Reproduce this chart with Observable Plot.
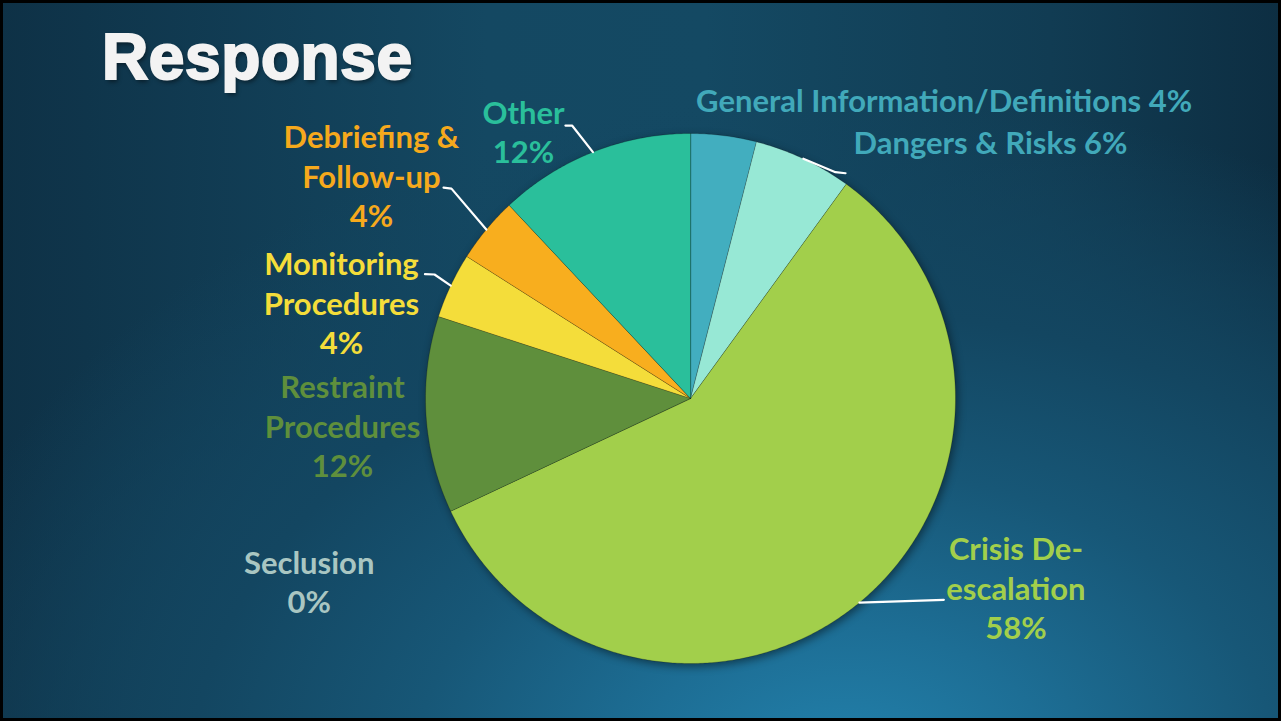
<!DOCTYPE html>
<html>
<head>
<meta charset="utf-8">
<script src="https://cdn.jsdelivr.net/npm/d3@7"></script>
<script src="https://cdn.jsdelivr.net/npm/@observablehq/plot@0.6"></script>
<style>
  html, body { margin: 0; padding: 0; background: #000; }
  #stage {
    position: relative; width: 1281px; height: 721px; overflow: hidden;
    background:
      radial-gradient(ellipse 75% 95% at 66% 108%, #2383ae 0%, #1d6e95 22%, #175777 45%, #134661 68%, rgba(19,70,97,0) 100%),
      linear-gradient(90deg, #0e3146 0%, #144862 38%, #144963 55%, #113c53 82%, #0d2e42 100%);
  }
  #stage svg { position: absolute; left: 0; top: 0; }
  #title {
    position: absolute; left: 102px; top: 25px; margin: 0;
    font-family: "Liberation Sans", Arial, sans-serif; font-weight: bold;
    font-size: 64px; line-height: 64px; letter-spacing: 0.6px;
    color: #f3f3f3; -webkit-text-stroke: 2.2px #f3f3f3;
    text-shadow: 2px 3px 4px rgba(0,0,0,0.45);
  }
  #frame { position: absolute; inset: 0; border: 3px solid #000; box-sizing: border-box; pointer-events: none; }
</style>
</head>
<body>
<div id="stage">
  <h1 id="title">Response</h1>
  <div id="frame"></div>
</div>
<script>
// ---- data ----
const categories = [
  "General Information/Definitions",
  "Dangers & Risks",
  "Crisis De-escalation",
  "Seclusion",
  "Restraint Procedures",
  "Monitoring Procedures",
  "Debriefing & Follow-up",
  "Other"
];
const shares = [4, 6, 58, 0, 12, 4, 4, 12];
const labelNames = [
  "General Information/Definitions",
  "Dangers & Risks",
  "Crisis De-\nescalation",
  "Seclusion",
  "Restraint\nProcedures",
  "Monitoring\nProcedures",
  "Debriefing &\nFollow-up",
  "Other"
];
const labelJoin = [" ", " ", "\n", "\n", "\n", "\n", "\n", "\n"];

// ---- styles ----
const sliceColors = ["#42aebf", "#97e8d5", "#a2cf4b", "#a9c6c2", "#5f8f3c", "#f4dd3a", "#f8ae1e", "#2abf9b"];
const labelColors = ["#41a9ba", "#41a9ba", "#a2cf4b", "#a9c6c2", "#5f8f3c", "#f4dd3a", "#f6a91c", "#2abf9b"];

// ---- layout (in pie-radius units, centre = 0,0) ----
const labelX = [0.957, 1.132, 1.228, -1.439, -1.313, -1.317, -1.204, -0.630];
const labelY = [1.127, 0.970, -0.712, -0.689, -0.100, 0.364, 0.843, 1.010];
const leaderBends = [
  null,
  [[0.547, 0.854], [0.585, 0.850]],
  [[0.956, -0.760]],
  null,
  null,
  [[-0.966, 0.468], [-1.002, 0.469]],
  [[-0.902, 0.792], [-0.932, 0.796]],
  [[-0.447, 1.030], [-0.472, 1.030]]
];

// ---- build geometry from the data ----
const total = d3.sum(shares);
const slicePts = [];
const mids = [];
let cum = 0;
categories.forEach((c, i) => {
  const a0 = cum / total * 2 * Math.PI;
  cum += shares[i];
  const a1 = cum / total * 2 * Math.PI;
  mids.push((a0 + a1) / 2);
  if (shares[i] === 0) return;
  slicePts.push({cat: c, x: 0, y: 0});
  const n = Math.max(2, Math.ceil((a1 - a0) / (Math.PI / 360)));
  for (let k = 0; k <= n; ++k) {
    const a = a0 + (a1 - a0) * k / n;
    slicePts.push({cat: c, x: Math.sin(a), y: Math.cos(a)});
  }
});

const leaderPts = [];
leaderBends.forEach((b, i) => {
  if (!b) return;
  leaderPts.push({cat: categories[i], x: Math.sin(mids[i]), y: Math.cos(mids[i])});
  b.forEach(([x, y]) => leaderPts.push({cat: categories[i], x, y}));
});

const labelMarks = categories.map((c, i) =>
  Plot.text([{x: labelX[i], y: labelY[i], t: labelNames[i] + labelJoin[i] + shares[i] + "%"}], {
    x: "x", y: "y", text: "t",
    fill: labelColors[i],
    fontSize: 31, fontFamily: "Lato, 'Open Sans', sans-serif", fontWeight: "bold",
    lineHeight: 1.27
  })
);

const chart = Plot.plot({
  width: 1281,
  height: 721,
  marginLeft: 425,
  marginRight: 326,
  marginTop: 133,
  marginBottom: 58,
  x: {domain: [-1, 1], axis: null},
  y: {domain: [-1, 1], axis: null},
  color: {domain: categories, range: sliceColors},
  style: {background: "none", overflow: "visible"},
  marks: [
    Plot.line(slicePts, {
      x: "x", y: "y", z: "cat", fill: "cat",
      stroke: "rgba(0,0,0,0.28)", strokeWidth: 0.8,
      curve: "linear-closed"
    }),
    Plot.line(leaderPts, {
      x: "x", y: "y", z: "cat",
      stroke: "#ffffff", strokeWidth: 2.2, curve: "linear"
    }),
    ...labelMarks
  ]
});

const stage = document.getElementById("stage");
stage.insertBefore(chart, document.getElementById("title"));
const pieG = chart.querySelector("g[aria-label='line']");
if (pieG) pieG.style.filter = "drop-shadow(2px 3px 4px rgba(0,0,0,0.45))";
</script>
</body>
</html>
